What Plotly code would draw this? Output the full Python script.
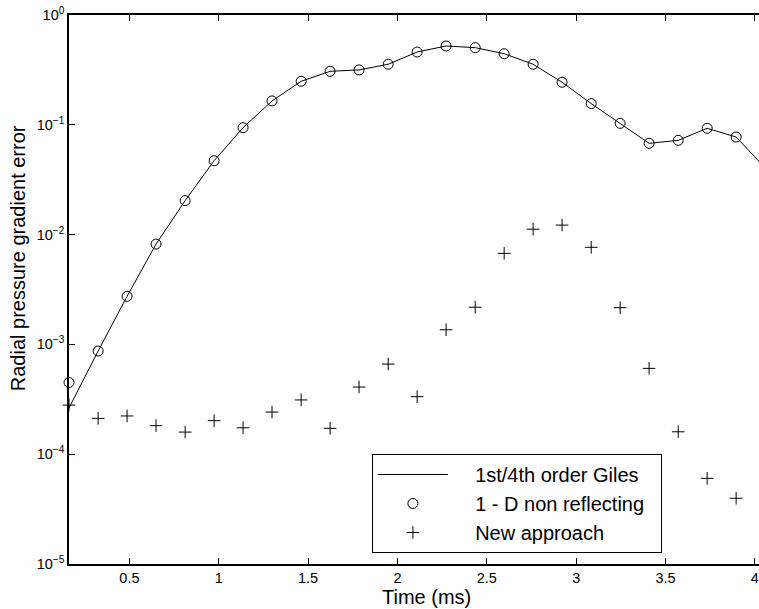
import plotly.graph_objects as go

# Time (ms)
t = [0.162, 0.325, 0.487, 0.649, 0.812, 0.974, 1.136, 1.298, 1.461, 1.623,
     1.785, 1.948, 2.110, 2.272, 2.435, 2.597, 2.759, 2.921, 3.084, 3.246,
     3.408, 3.571, 3.733, 3.895, 4.058]

# 1st/4th order Giles (line)
giles = [2.64e-4, 8.7e-4, 2.74e-3, 8.2e-3, 2.04e-2, 0.0471, 0.0941, 0.165,
         0.249, 0.307, 0.316, 0.356, 0.460, 0.522, 0.504, 0.444, 0.356, 0.244,
         0.156, 0.103, 0.0678, 0.0722, 0.0929, 0.0774, 0.0404]

# 1-D non reflecting (circles)
nonrefl = [4.5e-4, 8.7e-4, 2.74e-3, 8.2e-3, 2.04e-2, 0.0471, 0.0941, 0.165,
           0.249, 0.307, 0.316, 0.356, 0.460, 0.522, 0.504, 0.444, 0.356, 0.244,
           0.156, 0.103, 0.0678, 0.0722, 0.0929, 0.0774]

# New approach (plus)
newapp = [2.8e-4, 2.12e-4, 2.23e-4, 1.82e-4, 1.59e-4, 2.02e-4, 1.74e-4, 2.42e-4,
          3.12e-4, 1.72e-4, 4.09e-4, 6.62e-4, 3.34e-4, 1.36e-3, 2.18e-3, 6.75e-3,
          1.12e-2, 1.22e-2, 7.66e-3, 2.16e-3, 6.05e-4, 1.60e-4, 6.03e-5, 3.97e-5]

names = ["1st/4th order Giles", "1 - D non reflecting", "New approach"]

x_tickvals = [0.5, 1, 1.5, 2, 2.5, 3, 3.5, 4]
x_ticktext = ["0.5", "1", "1.5", "2", "2.5", "3", "3.5", "4"]
y_tickvals = [1e-5, 1e-4, 1e-3, 1e-2, 1e-1, 1]
y_ticktext = ["10<sup>−5</sup>", "10<sup>−4</sup>", "10<sup>−3</sup>",
              "10<sup>−2</sup>", "10<sup>−1</sup>", "10<sup>0</sup>"]

FONT = "Liberation Sans, Arial, Helvetica, sans-serif"
NB = "\u00a0"
lead = NB * 4

fig = go.Figure()
fig.add_trace(go.Scatter(x=t, y=giles, mode="lines", name=lead + names[0] + NB * 3,
                         line=dict(color="black", width=1)))
fig.add_trace(go.Scatter(x=t[:len(nonrefl)], y=nonrefl, mode="markers",
                         name=lead + names[1], cliponaxis=False,
                         marker=dict(symbol="circle-open", size=10, color="black",
                                     line=dict(width=1, color="black"))))
fig.add_trace(go.Scatter(x=t[:len(newapp)], y=newapp, mode="markers",
                         name=lead + names[2], cliponaxis=False,
                         marker=dict(symbol="cross-thin-open", size=9, color="black",
                                     line=dict(width=1, color="black"))))

fig.update_layout(
    width=759, height=609,
    margin=dict(l=69, r=0, t=15, b=45),
    paper_bgcolor="white", plot_bgcolor="white",
    font=dict(family=FONT, color="black", size=14.5),
    showlegend=True,
    legend=dict(x=0.439, y=0.2004, xanchor="left", yanchor="top",
                bordercolor="black", borderwidth=1, bgcolor="white",
                font=dict(family=FONT, size=20, color="black"),
                itemwidth=70, tracegroupgap=0),
    xaxis=dict(range=[0.162, 4.023], tickvals=x_tickvals, ticktext=x_ticktext,
               ticks="inside", ticklen=6, tickwidth=1, tickcolor="black",
               showline=True, linecolor="black", linewidth=1.5, mirror="ticks",
               showgrid=False, zeroline=False,
               tickfont=dict(family=FONT, size=14.5, color="black")),
    yaxis=dict(type="log", range=[-5, 0], tickvals=y_tickvals, ticktext=y_ticktext,
               ticks="inside", ticklen=6, tickwidth=1, tickcolor="black",
               showline=True, linecolor="black", linewidth=1.5, mirror=False,
               showgrid=False, zeroline=False,
               tickfont=dict(family=FONT, size=14.5, color="black")),
    yaxis2=dict(type="log", range=[-5, 0], overlaying="y", side="right",
                tickvals=y_tickvals, ticks="inside", ticklen=6, tickwidth=1,
                tickcolor="black", showticklabels=False, showline=False,
                showgrid=False, zeroline=False),
    annotations=[
        dict(text="Time (ms)", xref="paper", yref="paper", x=0.5188, y=-0.061,
             xanchor="center", yanchor="middle", showarrow=False,
             font=dict(family=FONT, size=20, color="black")),
        dict(text="Radial pressure gradient error", xref="paper", yref="paper",
             x=-0.0739, y=0.557, xanchor="center", yanchor="middle", textangle=-90,
             showarrow=False, font=dict(family=FONT, size=20, color="black")),
    ],
)

fig.write_html("out.html")
